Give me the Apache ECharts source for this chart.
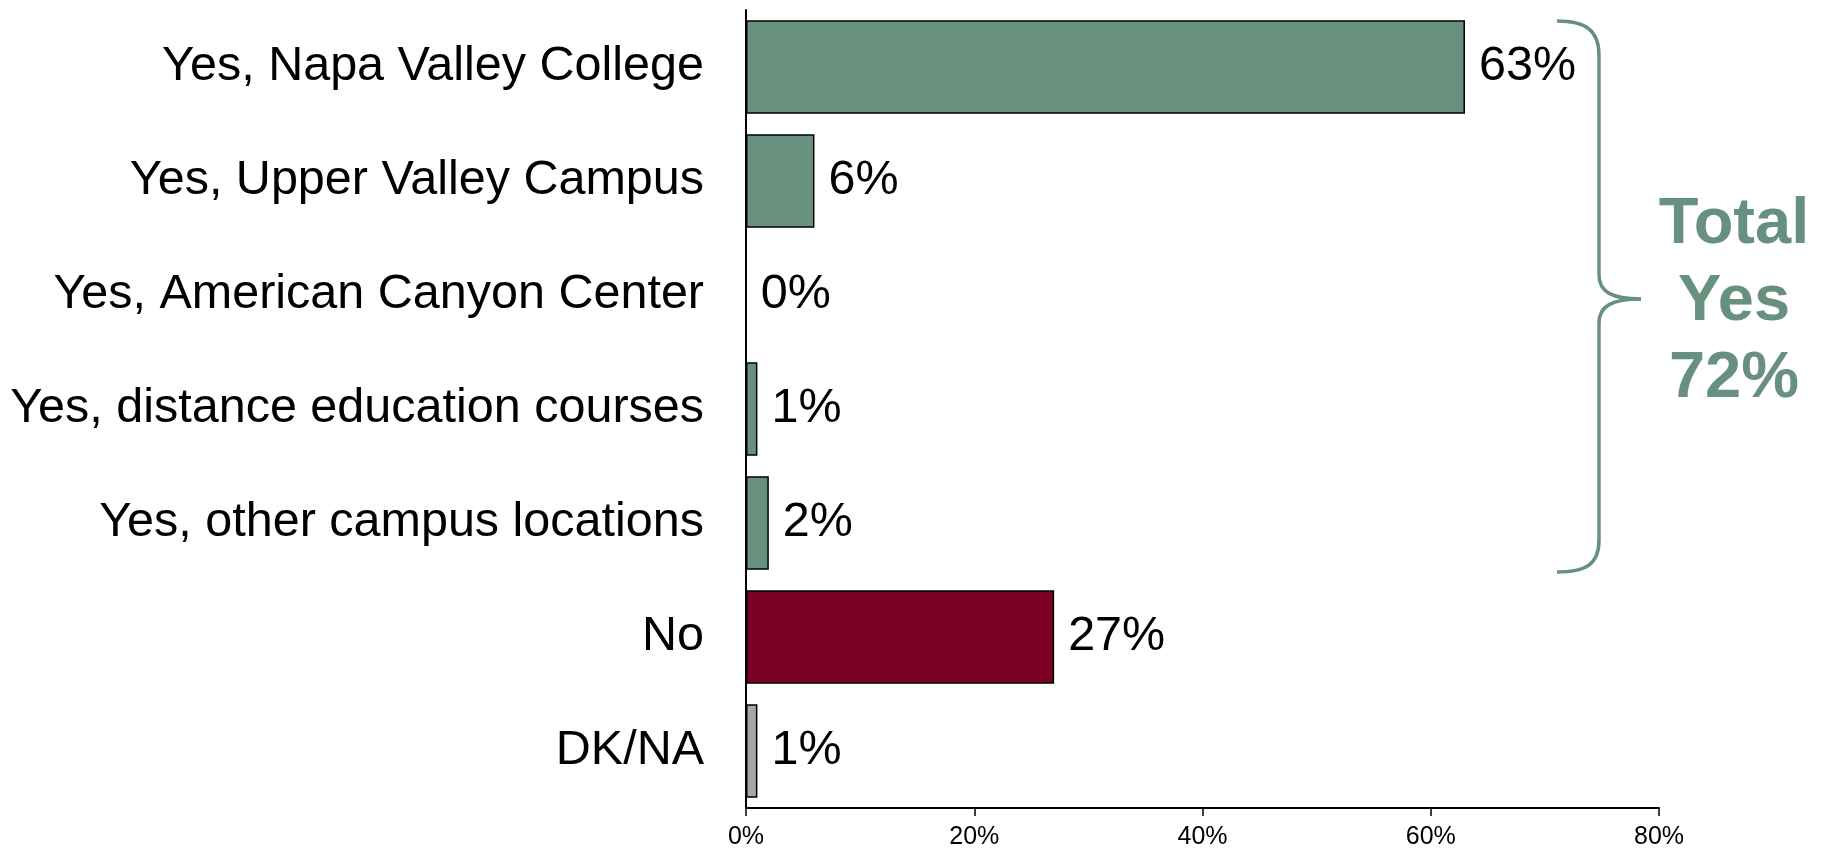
<!DOCTYPE html>
<html>
<head>
<meta charset="utf-8">
<script src="https://cdn.jsdelivr.net/npm/echarts@6/dist/echarts.min.js"></script>
<style>
  html, body { margin: 0; padding: 0; background: #fff; }
  #myChart { width: 1822px; height: 852px; }
</style>
</head>
<body>
<div id="myChart"></div>
<script>
// Categories and values (percent)
let categories = [
  "Yes, Napa Valley College",
  "Yes, Upper Valley Campus",
  "Yes, American Canyon Center",
  "Yes, distance education courses",
  "Yes, other campus locations",
  "No",
  "DK/NA"
];
let values = [63, 6, 0, 1, 2, 27, 1];
let barColors = ["#68907f", "#68907f", "#68907f", "#68907f", "#68907f", "#7c0023", "#a6a6a6"];
let tickLabels = [0, 20, 40, 60, 80];
let totalYes = "Total\nYes\n72%";

let font = "Liberation Sans, Arial, sans-serif";
let braceColor = "#68907f";

let myChart = echarts.init(document.getElementById("myChart"));

// curly brace beside the "Yes" bars
let braceStyle = { fill: null, stroke: braceColor, lineWidth: 3.5 };
let brace = [
  { type: "bezierCurve", shape: { x1: 1557, y1: 21, cpx1: 1585, cpy1: 21, cpx2: 1599, cpy2: 30, x2: 1599, y2: 55 } },
  { type: "line", shape: { x1: 1599, y1: 55, x2: 1599, y2: 275 } },
  { type: "bezierCurve", shape: { x1: 1599, y1: 275, cpx1: 1599, cpy1: 292, cpx2: 1612, cpy2: 299, x2: 1641, y2: 299 } },
  { type: "bezierCurve", shape: { x1: 1641, y1: 299, cpx1: 1612, cpy1: 299, cpx2: 1599, cpy2: 306, x2: 1599, y2: 323 } },
  { type: "line", shape: { x1: 1599, y1: 323, x2: 1599, y2: 540 } },
  { type: "bezierCurve", shape: { x1: 1599, y1: 540, cpx1: 1599, cpy1: 565, cpx2: 1585, cpy2: 572, x2: 1557, y2: 572 } }
].map(el => Object.assign(el, { style: braceStyle }));

let option = {
  backgroundColor: "#fff",
  animation: false,
  grid: { left: 746, right: 163, top: 10, bottom: 44 },
  xAxis: {
    type: "value",
    min: tickLabels[0],
    max: tickLabels[tickLabels.length - 1],
    interval: 20,
    splitLine: { show: false },
    axisLine: { show: true, lineStyle: { color: "#000", width: 2 } },
    axisTick: { show: true, length: 8, lineStyle: { color: "#000", width: 1.5 } },
    axisLabel: {
      formatter: "{value}%",
      fontSize: 25,
      color: "#000",
      fontFamily: font,
      margin: 17
    }
  },
  yAxis: {
    type: "category",
    data: categories,
    inverse: true,
    axisLine: { show: true, lineStyle: { color: "#000", width: 2 } },
    axisTick: { show: false },
    axisLabel: {
      fontSize: 48.5,
      color: "#000",
      fontFamily: font,
      margin: 42,
      padding: [9, 0, 0, 0]
    }
  },
  series: [
    {
      type: "bar",
      barCategoryGap: "18%",
      data: values.map((v, i) => ({
        value: v,
        itemStyle: { color: barColors[i] }
      })),
      itemStyle: { borderColor: "#000", borderWidth: 1.5 },
      label: {
        show: true,
        position: "right",
        distance: 14,
        formatter: "{c}%",
        fontSize: 48.5,
        color: "#000",
        fontFamily: font,
        padding: [9, 0, 0, 0]
      }
    }
  ],
  graphic: brace.concat([
    {
      type: "text",
      x: 1734,
      y: 187,
      style: {
        text: totalYes,
        fill: braceColor,
        font: "bold 65px " + font,
        lineHeight: 77,
        align: "center",
        verticalAlign: "top"
      }
    }
  ])
};

myChart.setOption(option);
</script>
</body>
</html>
